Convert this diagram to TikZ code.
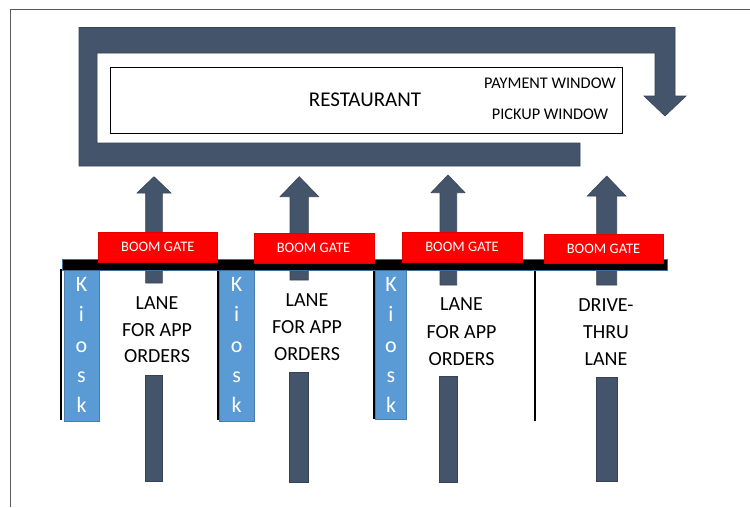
\documentclass[tikz,border=0pt]{standalone}
\usepackage{fontspec}
\setmainfont{Carlito}
\definecolor{slate}{HTML}{44546A}
\definecolor{kblue}{HTML}{5B9BD5}
\definecolor{gred}{HTML}{FF0000}
\definecolor{framec}{HTML}{595959}
\tikzset{
 arrowshape/.style={fill=slate, draw=slate!80!black, line width=0.6pt},
 gate/.style={fill=gred, draw=gred!90!black, line width=0.4pt},
 kiosk/.style={fill=kblue, draw=kblue!80!black, line width=0.4pt},
 divider/.style={draw=black, line width=1.6pt},
 gatetext/.style={text=white, font=\fontsize{14.5}{16}\selectfont, inner sep=0},
 lanetext/.style={font=\fontsize{20}{24}\selectfont, anchor=base, inner sep=0},
 kletter/.style={text=white, font=\fontsize{22}{24}\selectfont, anchor=base, inner sep=0},
 resttext/.style={font=\fontsize{21}{24}\selectfont, anchor=base, inner sep=0},
 wintext/.style={font=\fontsize{16.3}{18}\selectfont, anchor=base, inner sep=0},
}
\begin{document}
\begin{tikzpicture}[x=1pt,y=-1pt]
\useasboundingbox (0,0) rectangle (750,507);
\fill[white] (0,0) rectangle (750,507);
\draw[framec, line width=1pt] (10,507) -- (10,9) -- (750,9);

% U-shaped arrow round the restaurant
\path[arrowshape] (580,166) -- (79,166) -- (79,27.5) -- (675,27.5) -- (675,96) -- (686,96)
  -- (665,116) -- (644,96) -- (655,96) -- (655,53) -- (97,53) -- (97,143) -- (580,143) -- cycle;

% restaurant
\draw[black, line width=0.8pt] (110,67) rectangle (622,133);
\node[resttext] (rest) at (365,106.7) {RESTAURANT};
\node[wintext] (pay) at (550,88.3) {PAYMENT WINDOW};
\node[wintext] (pick) at (550,119) {PICKUP WINDOW};

% upward arrows (upper parts)
\path[arrowshape] (145.7,283) -- (145.7,193) -- (137,193) -- (154,176.7) -- (171,193) -- (162.3,193) -- (162.3,283) -- cycle;
\path[arrowshape] (290,280) -- (290,196.7) -- (280,196.7) -- (299.3,176.7) -- (318.7,196.7) -- (308.3,196.7) -- (308.3,280) -- cycle;
\path[arrowshape] (440,285) -- (440,192.7) -- (431,192.7) -- (448,175) -- (465,192.7) -- (456.7,192.7) -- (456.7,285) -- cycle;
\path[arrowshape] (596.7,285) -- (596.7,196) -- (587.3,196) -- (606.7,176) -- (626,196) -- (616.7,196) -- (616.7,285) -- cycle;

% lower shafts
\path[arrowshape] (145,375) rectangle (162.7,481.7);
\path[arrowshape] (289.5,372.7) rectangle (308.6,482.7);
\path[arrowshape] (439.2,376) rectangle (457,482.7);
\path[arrowshape] (596.7,377.3) rectangle (617.2,481.7);

% lane dividers
\draw[divider] (61,269) -- (61,420);
\draw[divider] (218,269) -- (218,420);
\draw[divider] (374,269) -- (374,419);
\draw[divider] (535,269) -- (535,421);

% kiosks
\path[kiosk] (64,269) rectangle (99,421);
\path[kiosk] (219.5,269) rectangle (254,421);
\path[kiosk] (375.5,269) rectangle (406.5,419);
\foreach \n/\x in {1/81.5, 2/236.7, 3/391} {
  \node[kletter] (k\n a) at (\x,291.5) {K};
  \node[kletter] (k\n b) at (\x,321.7) {i};
  \node[kletter] (k\n c) at (\x,352.5) {o};
  \node[kletter] (k\n d) at (\x,382.7) {s};
  \node[kletter] (k\n e) at (\x,412.7) {k};
}

% black bar
\path[fill=black, draw=kblue!70!black, line width=0.5pt] (62,259) rectangle (667,270);

% boom gates
\path[gate] (98.3,232.3) rectangle (217.3,261.7);
\path[gate] (254.3,233.3) rectangle (374,263.3);
\path[gate] (402.3,232.3) rectangle (521.7,261.7);
\path[gate] (544,234.3) rectangle (663.3,263.3);
\node[gatetext] (g1) at (157.8,246.8) {BOOM GATE};
\node[gatetext] (g2) at (313.5,248) {BOOM GATE};
\node[gatetext] (g3) at (462,246.8) {BOOM GATE};
\node[gatetext] (g4) at (603.5,249) {BOOM GATE};

% lane labels
\node[lanetext] (l1a) at (157,309.3) {LANE};
\node[lanetext] (l1b) at (157,336) {FOR APP};
\node[lanetext] (l1c) at (157,362.7) {ORDERS};
\node[lanetext] (l2a) at (307,306.7) {LANE};
\node[lanetext] (l2b) at (307,333.7) {FOR APP};
\node[lanetext] (l2c) at (307,360.7) {ORDERS};
\node[lanetext] (l3a) at (461.5,310.7) {LANE};
\node[lanetext] (l3b) at (461.5,338.2) {FOR APP};
\node[lanetext] (l3c) at (461.5,365.7) {ORDERS};
\node[lanetext] (d1) at (606,311.7) {DRIVE-};
\node[lanetext] (d2) at (606,338.7) {THRU};
\node[lanetext] (d3) at (606,365.7) {LANE};
\end{tikzpicture}
\end{document}
